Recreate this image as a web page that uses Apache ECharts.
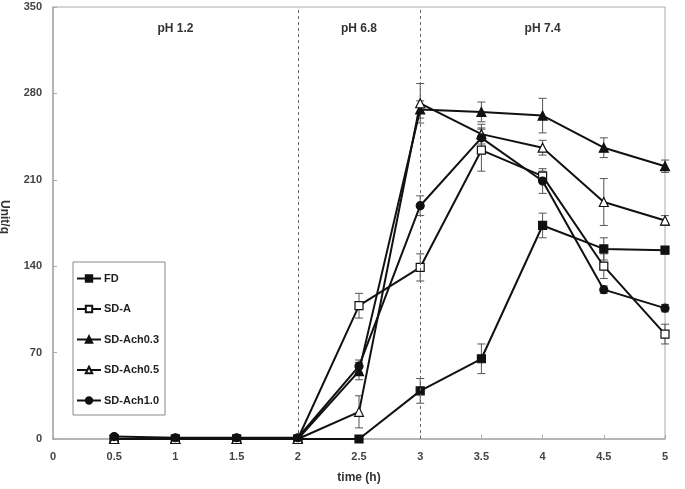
<!DOCTYPE html>
<html>
<head>
<meta charset="utf-8">
<script src="https://cdn.jsdelivr.net/npm/echarts@6/dist/echarts.min.js"></script>
<style>html,body{margin:0;padding:0;background:#fff}#c{width:685px;height:489px}</style>
</head>
<body>
<div id="c"></div>
<script>
const times = [0.5, 1, 1.5, 2, 2.5, 3, 3.5, 4, 4.5, 5];
const seriesNames = ['FD', 'SD-A', 'SD-Ach0.3', 'SD-Ach0.5', 'SD-Ach1.0'];
const fd = [0, 0, 0, 0, 0, 39, 65, 173, 154, 153];
const fdErr = [0, 0, 0, 0, 0, 10, 12, 10, 9, 3];
const sdA = [0, 0, 0, 0, 108, 139, 234, 213, 140, 85];
const sdAErr = [0, 0, 0, 0, 10, 11, 17, 4, 10, 8];
const ach03 = [0, 0, 0, 0, 55, 267, 265, 262, 236, 221];
const ach03Err = [0, 0, 0, 0, 7, 7, 8, 14, 8, 5];
const ach05 = [0, 0, 0, 0, 22, 272, 247, 236, 192, 177];
const ach05Err = [0, 0, 0, 0, 13, 16, 8, 6, 19, 4];
const ach10 = [2, 1, 1, 1, 59, 189, 244, 209, 121, 106];
const ach10Err = [0, 0, 0, 0, 5, 8, 8, 10, 3, 3];
const phLabels = [['pH 1.2', 1.0], ['pH 6.8', 2.5], ['pH 7.4', 4.0]];
const phaseBounds = [2, 3];

const FONT = '"Liberation Sans Narrow", "Liberation Sans", Arial, sans-serif';
const vals = [fd, sdA, ach03, ach05, ach10];
const errs = [fdErr, sdAErr, ach03Err, ach05Err, ach10Err];
const symbols = ['rect', 'rect', 'triangle', 'triangle', 'circle'];
const sizes = [8, 8, 9, 9, 8];
const filled = [true, false, true, false, true];

const chart = echarts.init(document.getElementById('c'), null, {renderer: 'canvas'});

function errRender(params, api) {
  const x = api.value(0), y = api.value(1), e = api.value(2);
  if (!e) return null;
  const t = api.coord([x, y + e]), b = api.coord([x, y - e]);
  const w = 4;
  const st = {stroke: '#555', lineWidth: 1};
  return {type: 'group', children: [
    {type: 'line', shape: {x1: t[0], y1: t[1], x2: b[0], y2: b[1]}, style: st},
    {type: 'line', shape: {x1: t[0] - w, y1: t[1], x2: t[0] + w, y2: t[1]}, style: st},
    {type: 'line', shape: {x1: b[0] - w, y1: b[1], x2: b[0] + w, y2: b[1]}, style: st}
  ]};
}

const series = [];
seriesNames.forEach((n, i) => {
  series.push({
    type: 'custom', name: n + '_err', renderItem: errRender, silent: true,
    data: times.map((t, k) => [t, vals[i][k], errs[i][k]]), z: 1
  });
});
seriesNames.forEach((n, i) => {
  const s = {
    type: 'line', name: n, data: times.map((t, k) => [t, vals[i][k]]),
    symbol: symbols[i], symbolSize: sizes[i], showAllSymbol: true, clip: false,
    lineStyle: {color: '#111', width: 2},
    itemStyle: {color: filled[i] ? '#111' : '#fff', borderColor: '#111', borderWidth: 1.2},
    z: 3 + i
  };
  if (i === 0) {
    s.markLine = {
      silent: true, symbol: 'none', label: {show: false},
      lineStyle: {color: '#666', type: [3, 3], width: 1},
      data: phaseBounds.map(v => ({xAxis: v}))
    };
  }
  series.push(s);
});

const option = {
  backgroundColor: '#fff',
  animation: false,
  grid: {left: 53, right: 20, top: 7, bottom: 47, show: true, borderColor: '#aaa', borderWidth: 1},
  xAxis: {
    type: 'value', min: 0, max: 5, interval: 0.5,
    name: 'time (h)', nameLocation: 'middle', nameGap: 33,
    nameTextStyle: {fontFamily: FONT, fontWeight: 'bold', fontSize: 12, color: '#333'},
    axisLine: {lineStyle: {color: '#aaa', width: 1.5}},
    axisTick: {inside: true, length: 4, lineStyle: {color: '#aaa'}},
    splitLine: {show: false},
    axisLabel: {fontFamily: FONT, fontWeight: 'bold', fontSize: 11, color: '#444', margin: 12}
  },
  yAxis: {
    type: 'value', min: 0, max: 350, interval: 70,
    axisLine: {show: true, lineStyle: {color: '#aaa', width: 1.5}},
    axisTick: {show: true, inside: true, length: 4, lineStyle: {color: '#aaa'}},
    splitLine: {show: false},
    axisLabel: {fontFamily: FONT, fontWeight: 'bold', fontSize: 11, color: '#444', margin: 11}
  },
  legend: {
    orient: 'vertical', left: 73, top: 262,
    data: seriesNames,
    borderColor: '#888', borderWidth: 1, padding: [11, 6, 9, 3],
    itemWidth: 24, itemHeight: 8, itemGap: 19.5,
    textStyle: {fontFamily: FONT, fontSize: 11, color: '#222', fontWeight: 'bold', padding: [0, 0, 0, -2]}
  },
  series: series
};
chart.setOption(option);

const g = phLabels.map(([txt, xv]) => {
  const p = chart.convertToPixel({xAxisIndex: 0, yAxisIndex: 0}, [xv, 0]);
  return {
    type: 'text', z: 10, x: p[0], y: 29,
    style: {text: txt, font: 'bold 12px ' + FONT, fill: '#333', align: 'center', verticalAlign: 'middle'}
  };
});
g.push({
  type: 'text', z: 10, x: 4, y: 217, rotation: -Math.PI / 2,
  style: {text: 'Unit/g', font: 'bold 12px ' + FONT, fill: '#333', align: 'center', verticalAlign: 'middle'}
});
chart.setOption({graphic: g});
</script>
</body>
</html>
